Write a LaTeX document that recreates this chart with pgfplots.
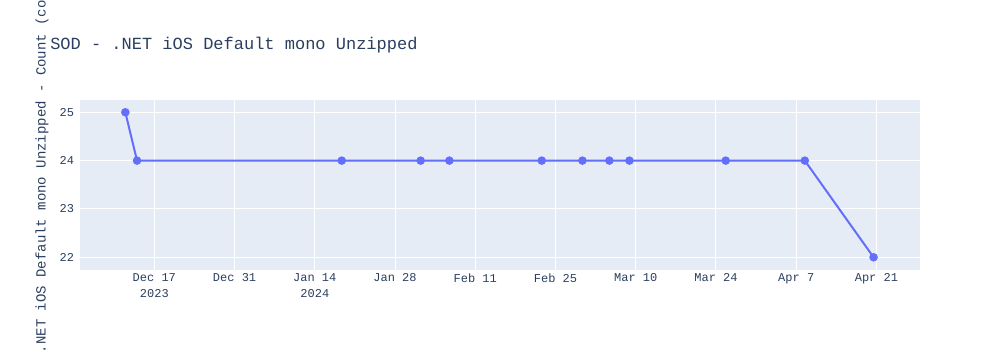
\documentclass[border=0pt]{standalone}
\usepackage{pgfplots}
\pgfplotsset{compat=1.18}
\usepackage{fontspec}
\setmainfont{Liberation Mono}
\definecolor{plotbg}{HTML}{E5ECF6}
\definecolor{txt}{HTML}{2A3F5F}
\definecolor{line}{HTML}{636EFA}
\begin{document}
\begin{tikzpicture}[x=0.75pt,y=0.75pt]
\useasboundingbox (0,0) rectangle (1000,350);
\begin{axis}[
  at={(80pt*0.75,80pt*0.75)}, anchor=south west,
  scale only axis, width=630pt, height=127.5pt,
  xmin=-12.97, xmax=133.6, ymin=21.737, ymax=25.254,
  axis background/.style={fill=plotbg},
  axis line style={draw=none},
  major tick length=0pt,
  grid=major, major grid style={white, line width=0.75pt},
  xtick={0,14,28,42,56,70,84,98,112,126},
  xticklabels={Dec 17\\2023, Dec 31, Jan 14\\2024, Jan 28, Feb 11, Feb 25, Mar 10, Mar 24, Apr 7, Apr 21},
  xticklabel style={align=center, font=\fontsize{9}{12}\selectfont, text=txt, yshift=1pt},
  ytick={22,23,24,25},
  yticklabel style={font=\fontsize{9}{11}\selectfont, text=txt, xshift=-1pt},
  /pgf/number format/assume math mode=true,
  clip=false,
]
\addplot[line, line width=1.5pt, mark=*, mark size=2.4pt, mark options={fill=line, draw=line}] coordinates {
(-5.06,25) (-3.02,24) (32.7,24) (46.47,24) (51.48,24) (67.6,24) (74.7,24) (79.4,24) (82.9,24) (99.7,24) (113.5,24) (125.5,22)
};
\end{axis}
\node[anchor=west, inner sep=0pt, text=txt, font=\fontsize{12.75}{15}\selectfont] at (50,305) {SOD - .NET iOS Default mono Unzipped};
\node[rotate=90, text=txt, font=\fontsize{10.5}{13}\selectfont] at (42,165) {SOD - .NET iOS Default mono Unzipped - Count (count)};
\end{tikzpicture}
\end{document}
